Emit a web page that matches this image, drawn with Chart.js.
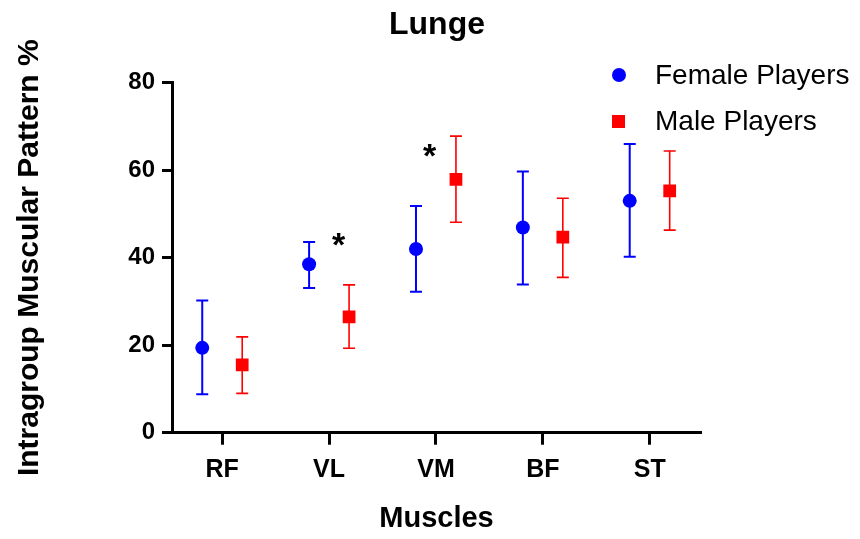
<!DOCTYPE html>
<html>
<head>
<meta charset="utf-8">
<script src="https://cdn.jsdelivr.net/npm/chart.js@4.4.1/dist/chart.umd.min.js"></script>
<style>
  body { margin: 0; background: #fff; }
  #wrap { width: 860px; height: 539px; }
</style>
</head>
<body>
<div id="wrap"><canvas id="lungeChart" width="860" height="539"></canvas></div>
<script>
// data (mean and the ends of each error bar)
const muscles = ['RF', 'VL', 'VM', 'BF', 'ST'];
const yTicks = [0, 20, 40, 60, 80];

const femaleMean = [19.4, 38.5, 42.0, 46.9, 53.0];
const femaleHigh = [30.2, 43.6, 51.8, 59.7, 66.0];
const femaleLow = [8.8, 33.1, 32.2, 33.9, 40.2];

const maleMean = [15.5, 26.5, 57.9, 44.7, 55.3];
const maleHigh = [21.9, 33.8, 67.8, 53.6, 64.4];
const maleLow = [9.0, 19.3, 48.1, 35.5, 46.3];

// significance marks: category index + small shift, height on the y scale
const sigMarks = [{ x: 1.09, y: 43.4 }, { x: 1.94, y: 63.6 }];

const FONT = '"Liberation Sans", Arial, sans-serif';
const SHIFT = 0.187; // horizontal shift of each group from the category centre

const toPoints = (means, dx) => means.map((m, i) => ({ x: i + dx, y: m }));

// draws the error bars under the markers
const errorBars = {
  id: 'errorBars',
  beforeDatasetsDraw(chart) {
    const { ctx, scales: { x, y } } = chart;
    chart.data.datasets.forEach((ds) => {
      ctx.save();
      ctx.strokeStyle = ds.borderColor;
      ctx.lineWidth = ds.barWidth;
      ds.data.forEach((p, i) => {
        const px = x.getPixelForValue(p.x);
        const top = y.getPixelForValue(ds.high[i]);
        const bot = y.getPixelForValue(ds.low[i]);
        ctx.beginPath();
        ctx.moveTo(px, top); ctx.lineTo(px, bot);
        ctx.moveTo(px - 6, top); ctx.lineTo(px + 6, top);
        ctx.moveTo(px - 6, bot); ctx.lineTo(px + 6, bot);
        ctx.stroke();
      });
      ctx.restore();
    });
  }
};

// title, asterisks and the legend in the top right corner
const extras = {
  id: 'extras',
  afterDraw(chart) {
    const { ctx, scales: { x, y } } = chart;
    ctx.save();
    ctx.fillStyle = '#000';
    ctx.textAlign = 'center';
    ctx.textBaseline = 'middle';
    ctx.font = 'bold 32px ' + FONT;
    ctx.fillText('Lunge', 437, 25);

    ctx.font = 'bold 34px ' + FONT;
    sigMarks.forEach(s => {
      ctx.fillText('*', x.getPixelForValue(s.x), y.getPixelForValue(s.y) + 3.6);
    });

    const items = chart.data.datasets;
    ctx.font = '28px ' + FONT;
    ctx.textAlign = 'left';
    items.forEach((ds, i) => {
      const cy = 75 + i * 46.5;
      ctx.fillStyle = ds.backgroundColor;
      if (ds.pointStyle === 'circle') {
        ctx.beginPath();
        ctx.arc(619, cy, 7, 0, Math.PI * 2);
        ctx.fill();
      } else {
        ctx.fillRect(612, cy - 6.5, 13, 13);
      }
      ctx.fillStyle = '#000';
      ctx.fillText(ds.label, 655, cy + 1);
    });
    ctx.restore();
  }
};

new Chart(document.getElementById('lungeChart'), {
  type: 'scatter',
  data: {
    datasets: [
      {
        label: 'Female Players',
        data: toPoints(femaleMean, -SHIFT),
        high: femaleHigh,
        low: femaleLow,
        backgroundColor: '#0000ff',
        borderColor: '#0000ff',
        pointStyle: 'circle',
        pointRadius: 7,
        pointBorderWidth: 0,
        barWidth: 2
      },
      {
        label: 'Male Players',
        data: toPoints(maleMean, SHIFT),
        high: maleHigh,
        low: maleLow,
        backgroundColor: '#ff0000',
        borderColor: '#ff0000',
        pointStyle: 'rect',
        pointRadius: 9,
        pointBorderWidth: 0,
        barWidth: 1.6
      }
    ]
  },
  options: {
    responsive: false,
    animation: false,
    layout: { padding: { left: 0, right: 159, top: 82.7, bottom: 0 } },
    plugins: {
      legend: { display: false },
      tooltip: { enabled: false },
      title: { display: false }
    },
    scales: {
      x: {
        type: 'linear',
        min: -0.47,
        max: 4.48,
        afterBuildTicks: (scale) => { scale.ticks = muscles.map((m, i) => ({ value: i })); },
        afterFit: (scale) => { scale.height = 106.3; },
        ticks: {
          color: '#000',
          padding: 10,
          font: { family: FONT, size: 25, weight: 'bold' },
          callback: (v) => muscles[v]
        },
        grid: { drawOnChartArea: false, tickLength: 12, tickWidth: 3, tickColor: '#000' },
        border: { display: true, width: 3, color: '#000' },
        title: {
          display: true,
          text: 'Muscles',
          color: '#000',
          font: { family: FONT, size: 29, weight: 'bold' },
          padding: { top: 0, bottom: 2.6 }
        }
      },
      y: {
        min: 0,
        max: 80,
        afterBuildTicks: (scale) => { scale.ticks = yTicks.map(v => ({ value: v })); },
        afterFit: (scale) => { scale.width = 172; },
        ticks: {
          color: '#000',
          padding: 7,
          font: { family: FONT, size: 24, weight: 'bold' }
        },
        grid: { drawOnChartArea: false, tickLength: 10, tickWidth: 3, tickColor: '#000' },
        border: { display: true, width: 3, color: '#000' },
        title: {
          display: true,
          text: 'Intragroup Muscular Pattern %',
          color: '#000',
          font: { family: FONT, size: 30, weight: 'bold' },
          padding: { top: 12, bottom: 0 }
        }
      }
    }
  },
  plugins: [errorBars, extras]
});
</script>
</body>
</html>
